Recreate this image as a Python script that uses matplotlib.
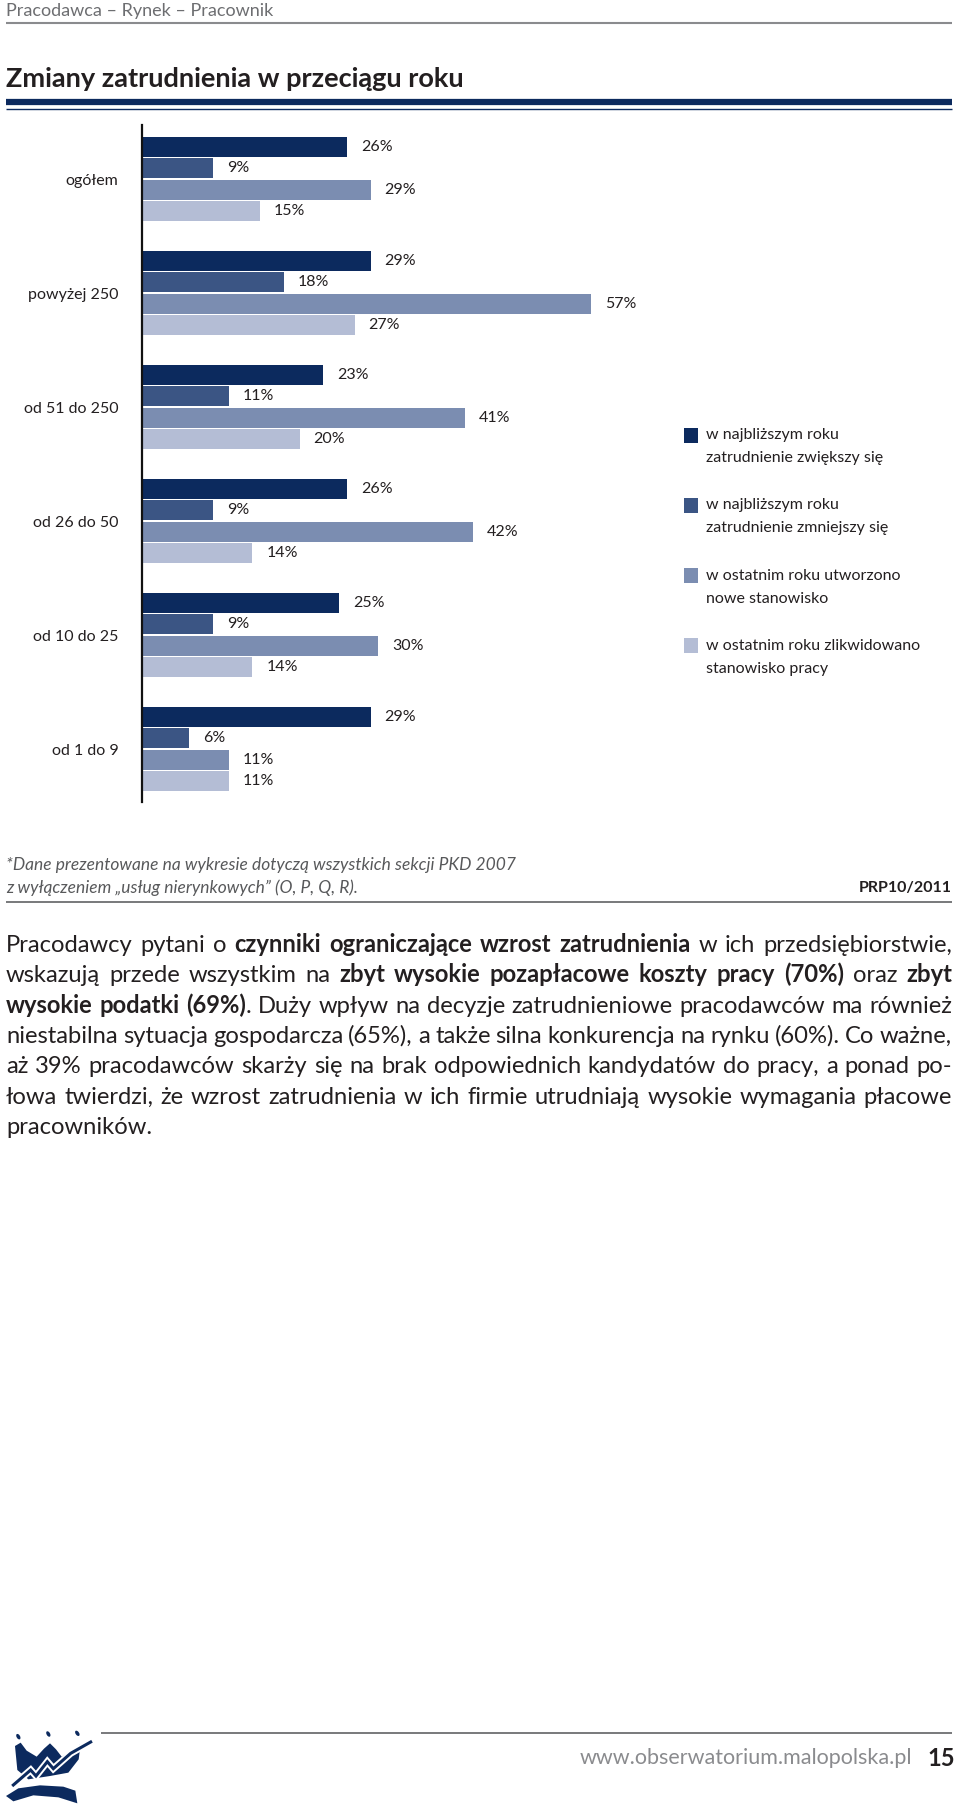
import matplotlib
matplotlib.use("Agg")
import matplotlib.pyplot as plt
from matplotlib.patches import Rectangle, Polygon, Ellipse

plt.rcParams['font.family'] = ['Lato', 'DejaVu Sans']

# ---------------- data ----------------
categories = ["ogółem", "powyżej 250", "od 51 do 250", "od 26 do 50", "od 10 do 25", "od 1 do 9"]
series_names = ["w najbliższym roku\nzatrudnienie zwiększy się",
                "w najbliższym roku\nzatrudnienie zmniejszy się",
                "w ostatnim roku utworzono\nnowe stanowisko",
                "w ostatnim roku zlikwidowano\nstanowisko pracy"]
zwiekszy = [26, 29, 23, 26, 25, 29]
zmniejszy = [9, 18, 11, 9, 9, 6]
utworzono = [29, 57, 41, 42, 30, 11]
zlikwidowano = [15, 27, 20, 14, 14, 11]
series = [zwiekszy, zmniejszy, utworzono, zlikwidowano]
colors = ["#0c2a5e", "#3b5584", "#7b8db1", "#b4bdd5"]

header = "Pracodawca – Rynek – Pracownik"
title = "Zmiany zatrudnienia w przeciągu roku"
footnote = ["*Dane prezentowane na wykresie dotyczą wszystkich sekcji PKD 2007",
            "z wyłączeniem „usług nierynkowych” (O, P, Q, R)."]
source = "PRP10/2011"
body_lines = [
    "Pracodawcy pytani o **czynniki ograniczające wzrost zatrudnienia** w ich przedsiębiorstwie,",
    "wskazują przede wszystkim na **zbyt wysokie pozapłacowe koszty pracy (70%)** oraz **zbyt**",
    "**wysokie podatki (69%)**. Duży wpływ na decyzje zatrudnieniowe pracodawców ma również",
    "niestabilna sytuacja gospodarcza (65%), a także silna konkurencja na rynku (60%). Co ważne,",
    "aż 39% pracodawców skarży się na brak odpowiednich kandydatów do pracy, a ponad po-",
    "łowa twierdzi, że wzrost zatrudnienia w ich firmie utrudniają wysokie wymagania płacowe",
    "pracowników.",
]
url = "www.obserwatorium.malopolska.pl"
page = "15"

TXT = "#231f20"
W, H = 960, 1804
fig = plt.figure(figsize=(W / 100, H / 100), dpi=100)
fig.patch.set_facecolor("white")

# overlay axes in pixel coordinates
ov = fig.add_axes([0, 0, 1, 1])
ov.set_xlim(0, W)
ov.set_ylim(H, 0)
ov.axis("off")
ov.set_zorder(0)

# header
ov.text(6, 11, header, fontsize=13, color="#6d6e71", va="center", ha="left")
ov.plot([6, 952], [23, 23], color="#8a8b8e", lw=1.5, solid_capstyle="butt")

# title
ov.text(6, 87, title, fontsize=19.5, fontweight="bold", color=TXT, va="baseline", ha="left")
ov.plot([6, 952], [102, 102], color="#0c2a5e", lw=4.5, solid_capstyle="butt")
ov.plot([6, 952], [108.5, 108.5], color="#0c2a5e", lw=1.0, solid_capstyle="butt")

# ---------------- bar chart ----------------
x0_px, px_per = 142, 7.88
y_top, y_bot = 125, 802
ax = fig.add_axes([x0_px / W, 1 - y_bot / H, 100 * px_per / W, (y_bot - y_top) / H])
ax.set_xlim(0, 100)
ax.set_ylim(y_bot, y_top)
ax.patch.set_alpha(0)
for s in ["top", "right", "bottom"]:
    ax.spines[s].set_visible(False)
ax.spines["left"].set_linewidth(1.6)
ax.spines["left"].set_color("#111111")
ax.set_xticks([])

group_top, group_pitch, bar_pitch, bar_h = 137, 114, 21.4, 20
centers = []
for gi, cat in enumerate(categories):
    gt = group_top + gi * group_pitch
    ys = [gt + bar_h / 2 + j * bar_pitch for j in range(len(series))]
    centers.append(ys[0] + 1.5 * bar_pitch)
    for j, (vals, col) in enumerate(zip(series, colors)):
        ax.barh(ys[j], vals[gi], height=bar_h, color=col, edgecolor="none")
        ax.annotate(f"{vals[gi]}%", (vals[gi], ys[j]), xytext=(10, 0), textcoords="offset points",
                    fontsize=11.5, color=TXT, va="center", ha="left")
ax.set_yticks(centers)
ax.set_yticklabels(categories, fontsize=11.5, color=TXT)
ax.tick_params(axis="y", length=0, pad=17)

# legend
for k, (name, col) in enumerate(zip(series_names, colors)):
    ly = 435 + k * 70.3
    ov.add_patch(Rectangle((684, ly - 7.5), 14, 15, facecolor=col, edgecolor="none"))
    for li, line in enumerate(name.split("\n")):
        ov.text(706, ly + li * 23, line, fontsize=11.5, color=TXT, va="center", ha="left")

# footnote
ov.text(6, 865, footnote[0], fontsize=12.5, style="italic", color="#58595b", va="center")
ov.text(6, 888, footnote[1], fontsize=12.5, style="italic", color="#58595b", va="center")
ov.text(952, 888, source, fontsize=11.5, fontweight="bold", color=TXT, va="center", ha="right")
ov.plot([6, 952], [902, 902], color="#6d6e71", lw=1.3, solid_capstyle="butt")

# ---------------- justified paragraph ----------------
fig.canvas.draw()
renderer = fig.canvas.get_renderer()


def parse(line):
    words = []
    bold = False
    for raw in line.split(" "):
        pieces = []
        parts = raw.split("**")
        for pi, p in enumerate(parts):
            if pi > 0:
                bold = not bold
            if p:
                pieces.append((p, bold))
        words.append(pieces)
    return words


def width(s, b, fs):
    t = ov.text(0, 0, s, fontsize=fs, fontweight="bold" if b else "normal")
    w = t.get_window_extent(renderer).width
    t.remove()
    return w


parsed = [parse(l) for l in body_lines]
left, right = 6, 952
fs = 17.5
for _ in range(4):
    sp = width("a a", False, fs) - width("aa", False, fs)
    worst = 0
    for words in parsed[:-1]:
        tot = sum(width(p, b, fs) for wd in words for p, b in wd) + 0.8 * sp * (len(words) - 1)
        worst = max(worst, tot)
    if worst <= right - left:
        break
    fs = fs * (right - left) / worst * 0.995

sp = width("a a", False, fs) - width("aa", False, fs)
for li, words in enumerate(parsed):
    base = 952 + li * 30.3
    wws = [[(p, b, width(p, b, fs)) for p, b in wd] for wd in words]
    wsum = [sum(w for _, _, w in wd) for wd in wws]
    if li < len(parsed) - 1 and len(words) > 1:
        gap = (right - left - sum(wsum)) / (len(words) - 1)
    else:
        gap = sp
    x = left
    for wd, ws in zip(wws, wsum):
        xx = x
        for p, b, w in wd:
            ov.text(xx, base, p, fontsize=fs, fontweight="bold" if b else "normal",
                    color=TXT, va="baseline", ha="left")
            xx += w
        x += ws + gap

# ---------------- footer ----------------
ov.plot([101, 952], [1733, 1733], color="#6d6e71", lw=1.3, solid_capstyle="butt")
ov.text(912, 1758, url, fontsize=15.5, color="#8a8b8e", va="center", ha="right")
ov.text(955, 1758, page, fontsize=17, fontweight="bold", color=TXT, va="center", ha="right")

# logo (approximate)
NAVY = "#0c2a5e"
def z(pts):
    return [(px / 3.0, 1720 + py / 3.0) for px, py in pts]
for cx, cy, ang in [(55, 50, 60), (145, 42, 60), (232, 40, 55)]:
    ov.add_patch(Ellipse((cx / 3, 1720 + cy / 3), 6, 3.5, angle=ang, facecolor=NAVY, edgecolor="none"))
crown = z([(45, 78), (62, 68), (80, 92), (110, 110), (132, 86), (150, 70), (168, 88),
           (185, 110), (212, 95), (242, 72), (236, 118), (205, 158), (150, 168), (85, 178), (52, 150)])
ov.add_patch(Polygon(crown, closed=True, facecolor=NAVY, edgecolor="none"))
zig = z([(40, 195), (92, 150), (108, 168), (142, 125), (160, 146), (212, 100), (272, 66)])
xs, ys = zip(*zig)
ov.plot(xs, ys, color="white", lw=5, solid_joinstyle="miter")
ov.plot(xs, ys, color=NAVY, lw=2.2, solid_joinstyle="miter")
swoosh = z([(18, 228), (55, 205), (120, 196), (190, 200), (226, 212), (232, 250),
            (175, 232), (100, 226), (40, 244)])
ov.add_patch(Polygon(swoosh, closed=True, facecolor=NAVY, edgecolor="none"))

fig.savefig("out.png", dpi=100, facecolor="white")
